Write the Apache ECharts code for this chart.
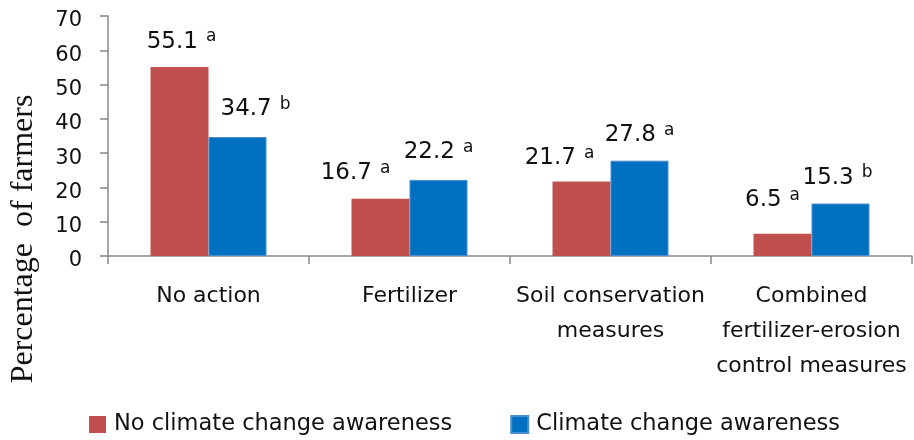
<!DOCTYPE html>
<html>
<head>
<meta charset="utf-8">
<script src="https://cdn.jsdelivr.net/npm/echarts@6/dist/echarts.min.js"></script>
<style>
  html, body { margin: 0; padding: 0; background: #fff; }
  #chart { width: 914px; height: 440px; }
</style>
</head>
<body>
<div id="chart"></div>
<script>
const categories = ['No action', 'Fertilizer', 'Soil conservation\nmeasures', 'Combined\nfertilizer-erosion\ncontrol measures']
const seriesNames = ['No climate change awareness', 'Climate change awareness']
const noAwareness = [55.1, 16.7, 21.7, 6.5]
const awareness = [34.7, 22.2, 27.8, 15.3]
const noAwarenessLetters = ['a', 'a', 'a', 'a']
const awarenessLetters = ['b', 'a', 'a', 'b']
const yTicks = [0, 10, 20, 30, 40, 50, 60, 70]

// label nudges so the letters sit where they are in the original
const redShift = [[2, 0], [-25, 0], [-22, 2], [-10, -8]]
const blueShift = [[18, -2], [0, -2], [0, 0], [-3, 0]]

const labelFont = 'DejaVu Sans, Verdana, sans-serif'

const makeData = (values, letters, shifts) => values.map((v, i) => ({
  value: v,
  label: {
    offset: shifts[i],
    formatter: '{v|' + v.toFixed(1) + '}{s|' + letters[i] + '}'
  }
}))

const labelStyle = {
  show: true,
  position: 'top',
  distance: 12,
  rich: {
    v: { fontFamily: labelFont, fontSize: 23, color: '#111', lineHeight: 27 },
    s: { fontFamily: labelFont, fontSize: 17, color: '#111', verticalAlign: 'top', lineHeight: 20, padding: [0, 0, 16, 8] }
  }
}

const chart = echarts.init(document.getElementById('chart'))
chart.setOption({
  animation: false,
  grid: { left: 107, right: 2, top: 16, bottom: 184 },
  legend: {
    left: 84,
    top: 408,
    itemWidth: 17,
    itemHeight: 17,
    itemGap: 58,
    icon: 'rect',
    textStyle: { fontFamily: labelFont, fontSize: 22.5, color: '#111', padding: [0, 0, 0, 3] },
    data: seriesNames
  },
  xAxis: {
    type: 'category',
    data: categories,
    axisLine: { lineStyle: { color: '#888', width: 1.5 } },
    axisTick: { show: true, length: 8, lineStyle: { color: '#888', width: 1.5 } },
    axisLabel: {
      interval: 0,
      margin: 23,
      fontFamily: labelFont,
      fontSize: 22,
      lineHeight: 35,
      color: '#111',
      align: 'center'
    }
  },
  yAxis: {
    type: 'value',
    min: yTicks[0],
    max: yTicks[yTicks.length - 1],
    interval: 10,
    name: 'Percentage  of farmers',
    nameLocation: 'middle',
    nameGap: 68,
    nameTextStyle: {
      fontFamily: 'Liberation Serif, Times New Roman, serif',
      fontSize: 32,
      color: '#111',
      padding: [0, 206, 0, 0]
    },
    axisLine: { show: true, lineStyle: { color: '#888', width: 1.5 } },
    axisTick: { show: true, inside: false, length: 8, lineStyle: { color: '#888', width: 1.5 } },
    splitLine: { show: false },
    axisLabel: {
      fontFamily: labelFont,
      fontSize: 21,
      color: '#111',
      margin: 26,
      verticalAlign: 'top',
      lineHeight: 10
    }
  },
  series: [{
    name: seriesNames[0],
    type: 'bar',
    barWidth: 58,
    barGap: '0%',
    itemStyle: { color: '#C0504D' },
    label: labelStyle,
    data: makeData(noAwareness, noAwarenessLetters, redShift)
  }, {
    name: seriesNames[1],
    type: 'bar',
    barWidth: 58,
    barGap: '0%',
    itemStyle: { color: '#0070C0', borderColor: '#4A8ECF', borderWidth: 1 },
    label: labelStyle,
    data: makeData(awareness, awarenessLetters, blueShift)
  }]
})
</script>
</body>
</html>
